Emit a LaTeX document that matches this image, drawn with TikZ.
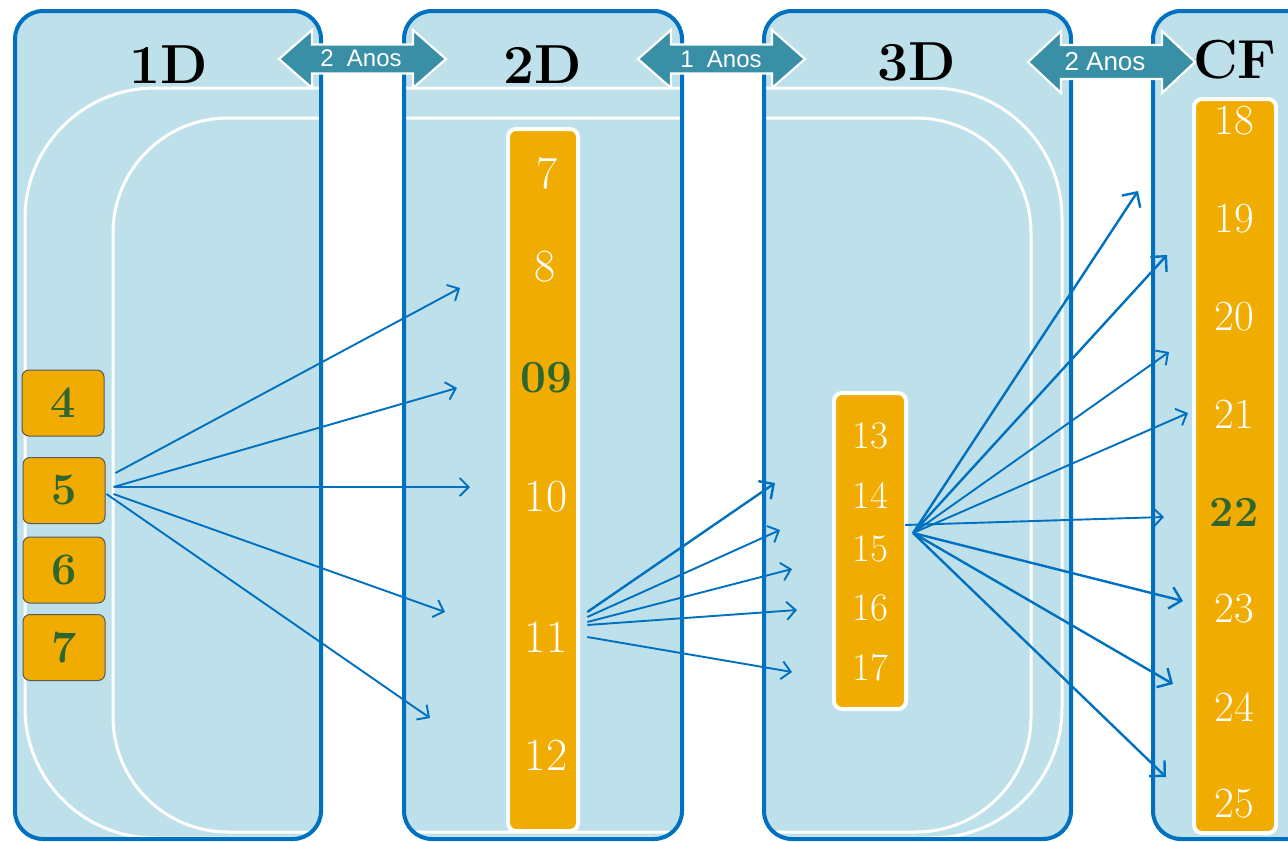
\documentclass[tikz,border=0pt]{standalone}
\usepackage{fontspec}
\newfontfamily\arialf{Liberation Sans}
\usetikzlibrary{arrows.meta,calc}
\definecolor{panelfill}{RGB}{190,224,234}
\definecolor{panelblue}{RGB}{0,112,192}
\definecolor{boxorange}{RGB}{240,172,0}
\definecolor{tealarrow}{RGB}{56,143,166}
\definecolor{numgreen}{RGB}{47,102,47}
\begin{document}
\begin{tikzpicture}[x=1pt,y=-1pt,
  panel/.style={fill=panelfill, rounded corners=28},
  panelborder/.style={draw=panelblue, line width=4, rounded corners=28},
  whiteline/.style={draw=white, line width=3},
  dbl/.style={fill=tealarrow, draw=white, line width=2.2, line join=miter},
  anos/.style={text=white, font=\arialf\fontsize{24}{24}\selectfont, inner sep=0},
  title/.style={text=black, font=\bfseries\fontsize{55}{55}\selectfont, inner sep=0},
  lbox/.style={fill=boxorange, draw=black!65, line width=1, rounded corners=7,
     minimum width=82, minimum height=66, inner sep=0,
     text=numgreen, font=\bfseries\fontsize{45}{45}\selectfont},
  column/.style={fill=boxorange, draw=white, line width=4, rounded corners=8, inner sep=0},
  num/.style={text=white, inner sep=0},
  gnum/.style={text=numgreen, inner sep=0},
  conn/.style={draw=panelblue, line width=1.9, -{Straight Barb[length=9, width=18, line width=1.9]}},
  connb/.style={draw=panelblue, line width=2.4, -{Straight Barb[length=11, width=22, line width=2.4]}}
]
\clip (0,0) rectangle (1288,841);
\fill[white] (0,0) rectangle (1288,841);
% panels
\fill[panel] (15,11) rectangle (321,839);
\fill[panel] (404,11) rectangle (682,839);
\fill[panel] (764,11) rectangle (1071,839);
\fill[panel] (1153,11) rectangle (1340,839);
% white curved outlines
\draw[whiteline, rounded corners=130] (25,88) rectangle (1062,838);
\draw[whiteline, rounded corners=115] (113,118) rectangle (1031,832);
% panel borders
\draw[panelborder] (15,11) rectangle (321,839);
\draw[panelborder] (404,11) rectangle (682,839);
\draw[panelborder] (764,11) rectangle (1071,839);
\draw[panelborder] (1153,11) rectangle (1340,839);
% double arrows
\draw[dbl] (279,59) -- (312,30) -- (312,44.5) -- (413,44.5) -- (413,30) -- (446,59) -- (413,88) -- (413,73.5) -- (312,73.5) -- (312,88) -- cycle;
\draw[dbl] (638,59) -- (671,30) -- (671,44.5) -- (772,44.5) -- (772,30) -- (805,59) -- (772,88) -- (772,73.5) -- (671,73.5) -- (671,88) -- cycle;
\draw[dbl] (1028,62) -- (1061,31) -- (1061,45) -- (1162,45) -- (1162,31) -- (1195,62) -- (1162,93) -- (1162,79) -- (1061,79) -- (1061,93) -- cycle;
\node[anos] (t12) at (361,58) {2\ \ Anos};
\node[anos] (t23) at (721,59) {1\ \ Anos};
\node[anos, font=\arialf\fontsize{26}{26}\selectfont] (t3f) at (1105,62) {2 Anos};
% titles
\node[title] (h1) at (169,65) {1D};
\node[title] (h2) at (543,65) {2D};
\node[title] (h3) at (917,62) {3D};
\node[title] (h4) at (1235,60) {CF};
% left boxes
\node[lbox] (b4) at (63,403) {4};
\node[lbox] (b5) at (64,490.5) {5};
\node[lbox] (b6) at (64,570) {6};
\node[lbox] (b7) at (64,647.5) {7};
% columns
\node[column, minimum width=70, minimum height=702] (col2) at (543,480) {};
\node[column, minimum width=72, minimum height=316] (col3) at (870,551) {};
\node[column, minimum width=82, minimum height=734] (col4) at (1235,466) {};
% 2D numbers
\begin{scope}[every node/.append style={font=\fontsize{46}{46}\selectfont}]
\node[num] (n7) at (547,173) {7};
\node[num] (n8) at (545,267) {8};
\node[gnum] (n09) at (546,378) {\bfseries 09};
\node[num] (n10) at (546,497) {10};
\node[num] (n11) at (546,637) {11};
\node[num] (n12) at (546,755) {12};
\end{scope}
% 3D numbers
\begin{scope}[every node/.append style={font=\fontsize{39}{39}\selectfont}]
\node[num] (n13) at (870,436) {13};
\node[num] (n14) at (870,495) {14};
\node[num] (n15) at (870,549) {15};
\node[num] (n16) at (870,608) {16};
\node[num] (n17) at (870,668) {17};
\end{scope}
% CF numbers
\begin{scope}[every node/.append style={font=\fontsize{43}{43}\selectfont}]
\node[num] (n18) at (1234,121) {18};
\node[num] (n19) at (1234,219) {19};
\node[num] (n20) at (1234,317) {20};
\node[num] (n21) at (1234,414) {21};
\node[gnum] (n22) at (1234,512) {\bfseries 22};
\node[num] (n23) at (1234,609) {23};
\node[num] (n24) at (1234,707) {24};
\node[num] (n25) at (1234,804) {25};
\end{scope}
% arrow targets
\coordinate (p1) at (460,288);
\coordinate (p2) at (457,388);
\coordinate (p3) at (470,487);
\coordinate (p4) at (445,612);
\coordinate (p5) at (430,718);
\coordinate (q1) at (775,483);
\coordinate (q2) at (780,530);
\coordinate (q3) at (792,569);
\coordinate (q4) at (797,610);
\coordinate (q5) at (792,672);
\coordinate (r1) at (1138,191);
\coordinate (r2) at (1167,255);
\coordinate (r3) at (1169,352);
\coordinate (r4) at (1188,413);
\coordinate (r5) at (1164,517);
\coordinate (r6) at (1183,601);
\coordinate (r7) at (1173,684);
\coordinate (r8) at (1166,777);
% connectors from 5
\draw[conn] ($(b5.east)+(10,-17.5)$) -- (p1);
\draw[conn] ($(b5.east)+(8,-3.5)$) -- (p2);
\draw[conn] ($(b5.east)+(8,-3.5)$) -- (p3);
\draw[conn] ($(b5.east)+(8,3.5)$) -- (p4);
\draw[conn] ($(b5.east)+(1,3.5)$) -- (p5);
% connectors from 11
\draw[connb] ($(n11.east)+(20,-25)$) -- (q1);
\draw[conn] ($(n11.east)+(20,-20)$) -- (q2);
\draw[conn] ($(n11.east)+(20,-15)$) -- (q3);
\draw[conn] ($(n11.east)+(20,-12)$) -- (q4);
\draw[conn] ($(n11.east)+(20,0)$) -- (q5);
% connectors from 15
\draw[connb] ($(n15.east)+(25,-16)$) -- (r1);
\draw[connb] ($(n15.east)+(25,-16)$) -- (r2);
\draw[conn] ($(n15.east)+(25,-16)$) -- (r3);
\draw[conn] ($(n15.east)+(25,-16)$) -- (r4);
\draw[conn] ($(n15.east)+(17,-24)$) -- (r5);
\draw[connb] ($(n15.east)+(25,-16)$) -- (r6);
\draw[connb] ($(n15.east)+(25,-16)$) -- (r7);
\draw[connb] ($(n15.east)+(25,-16)$) -- (r8);
\end{tikzpicture}
\end{document}
